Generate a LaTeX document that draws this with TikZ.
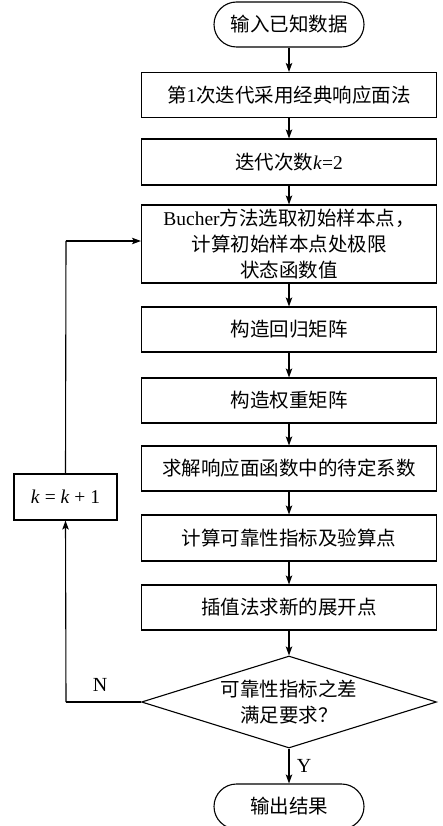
\documentclass[tikz,border=0pt]{standalone}
\usepackage{fontspec}
\setmainfont{Liberation Serif}
\newfontfamily\cjk{Noto Sans CJK SC}
\usetikzlibrary{shapes.geometric,arrows.meta}
\newcommand{\lat}[1]{{\rmfamily #1}}
\begin{document}
\begin{tikzpicture}[x=1pt,y=-1pt,
  every node/.style={font=\fontsize{19.5}{26}\selectfont\cjk},
  box/.style={draw,line width=1.1pt,minimum width=295pt,minimum height=45pt,inner sep=0pt,align=center},
  term/.style={draw,line width=1.1pt,minimum width=150pt,minimum height=45pt,inner sep=0pt,rounded corners=22.5pt},
  dec/.style={draw,diamond,aspect=3.2,minimum width=295pt,minimum height=92pt,inner sep=0pt,align=center,line width=1.1pt},
  arr/.style={line width=1.1pt,-{Stealth[length=9pt,width=6.5pt,inset=2pt]}},
  ln/.style={line width=1.1pt},
  lbl/.style={font=\fontsize{20}{22}\selectfont\rmfamily}]
\useasboundingbox (0,0) rectangle (443,826);
\node[term] (start) at (289,24.5) {输入已知数据};
\node[box] (b1) at (289,95) {第\lat{1}次迭代采用经典响应面法};
\node[box,minimum height=46pt] (b2) at (289,162) {迭代次数\lat{\textit{k}=2}};
\node[box,minimum height=78pt] (b3) at (289,244) {\lat{Bucher}方法选取初始样本点，\\计算初始样本点处极限\\状态函数值};
\node[box] (b4) at (289,329.5) {构造回归矩阵};
\node[box] (b5) at (289,400.5) {构造权重矩阵};
\node[box] (b6) at (289,468.5) {求解响应面函数中的待定系数};
\node[box,minimum height=46pt] (b7) at (289,538) {计算可靠性指标及验算点};
\node[box] (b8) at (289,607.5) {插值法求新的展开点};
\node[dec] (d) at (289,702) {可靠性指标之差\\满足要求？};
\node[term] (end) at (289,806.5) {输出结果};
\node[box,minimum width=103pt,minimum height=46pt] (kb) at (65.5,497) {\lat{\textit{k} = \textit{k} + 1}};
\coordinate (c1) at (66,702);
\coordinate (c2) at (66,241);
\draw[arr] (start.south) -- (b1.north);
\draw[arr] (b1.south) -- (b2.north);
\draw[arr] (b2.south) -- (b3.north);
\draw[arr] (b3.south) -- (b4.north);
\draw[arr] (b4.south) -- (b5.north);
\draw[arr] (b5.south) -- (b6.north);
\draw[arr] (b6.south) -- (b7.north);
\draw[arr] (b7.south) -- (b8.north);
\draw[arr] (b8.south) -- (d.north);
\draw[arr] (d.south) -- (end.north);
\draw[ln] (d.west) -- (c1);
\draw[arr] (c1) -- (kb.south);
\draw[ln] (kb.north) -- (c2);
\draw[arr] (c2) -- (c2 -| b3.west);
\node[lbl] (nl) at (100,685) {N};
\node[lbl] (yl) at (304,766) {Y};
\end{tikzpicture}
\end{document}
